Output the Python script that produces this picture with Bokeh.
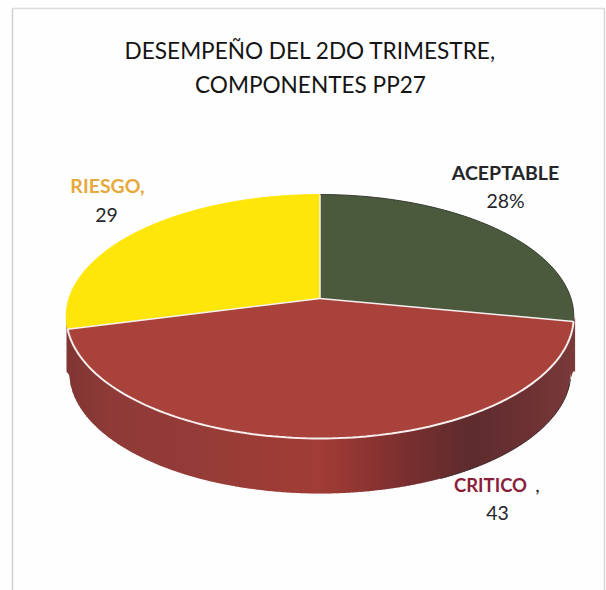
import numpy as np
from bokeh.plotting import figure
from bokeh.models import Range1d
from bokeh.core.properties import value
from bokeh.embed import file_html
from bokeh.resources import INLINE

# ---- data ----
title_lines = ["DESEMPEÑO DEL 2DO TRIMESTRE,", "COMPONENTES PP27"]
categories = ["ACEPTABLE", "CRITICO", "RIESGO"]
values = [28, 43, 29]
value_labels = ["28%", "43", "29"]

# ---- styles / layout ----
slice_colors = ["#4b5a3c", "#a8423a", "#ffe60a"]
CX, APEX_Y = 319.5, 298.0
A, K, B = 119.3, 0.1475, 251.0      # perspective projection of the disc
DEPTH_RX, DEPTH_CY, DEPTH_RY = 251.0, 371.0, 122.0
TOP_RX, TOP_CY, TOP_RY = 253.5, 316.0, 122.0
FONT = value("Lato")

p = figure(width=606, height=590, output_backend="svg", toolbar_location=None,
           x_range=Range1d(0, 606), y_range=Range1d(590, 0),
           min_border=0, min_border_left=0, min_border_right=0,
           min_border_top=0, min_border_bottom=0,
           background_fill_color="#fefefe", border_fill_color="#fefefe")
p.axis.visible = False
p.grid.visible = False
p.outline_line_color = None


def project(theta):
    """theta: clockwise from the top of the disc, radians."""
    sx, cy = np.sin(theta), np.cos(theta)
    den = 1 + K * cy
    return CX + B * sx / den, APEX_Y - A * cy / den


# sheet frame (scanned page edge)
p.line([12, 12], [8, 590], line_color="#cfcfcf", line_width=1.5)
p.line([12, 604], [8, 8], line_color="#dcdcdc", line_width=1.5)
p.line([604, 604], [8, 590], line_color="#d8d8d8", line_width=1.5)

# shaded side of the disc, drawn as thin vertical strips
stop_x = [66, 110, 200, 320, 400, 470, 530, 572]
stop_rgb = np.array([[128, 54, 52], [143, 59, 56], [150, 60, 56], [162, 60, 54],
                     [125, 48, 48], [94, 44, 46], [110, 50, 52], [122, 58, 58]], float)
edges = np.arange(66, 573, 2.0)
xs_side, ys_side, col_side = [], [], []
for x0 in edges:
    x1 = x0 + 2.6
    xx = np.array([x0, x1])
    top = TOP_CY + TOP_RY * np.sqrt(np.clip(1 - ((xx - CX) / TOP_RX) ** 2, 0, 1))
    bot = DEPTH_CY + DEPTH_RY * np.sqrt(np.clip(1 - ((xx - CX) / DEPTH_RX) ** 2, 0, 1))
    bot = np.maximum(bot, top)
    xs_side.append([x0, x1, x1, x0])
    ys_side.append([top[0], top[1], bot[1], bot[0]])
    rgb = [np.interp(x0 + 1, stop_x, stop_rgb[:, i]) for i in range(3)]
    col_side.append("#%02x%02x%02x" % tuple(int(c) for c in rgb))
p.patches(xs_side, ys_side, fill_color=col_side, line_color=None)

# dark lower-right silhouette of the side
arc_x = np.linspace(440, 570, 80)
arc_y = DEPTH_CY + DEPTH_RY * np.sqrt(np.clip(1 - ((arc_x - CX) / DEPTH_RX) ** 2, 0, 1))
p.line(arc_x, arc_y, line_color="#3c2a2c", line_width=1)

# top face slices
cum = np.concatenate([[0], np.cumsum(values)]) / np.sum(values) * 2 * np.pi
outlines = ["#34382e", "#f8eeee", "#ffe60a"]
for i in range(len(values)):
    t = np.linspace(cum[i], cum[i + 1], 120)
    ex, ey = project(t)
    p.patch(np.r_[CX, ex], np.r_[APEX_Y, ey], fill_color=slice_colors[i], line_color=None)
    p.line(ex, ey, line_color=outlines[i], line_width=2 if i == 1 else 1)

# white separators between slices
for a in cum[:-1]:
    ex, ey = project(np.array([a]))
    p.line([CX, ex[0]], [APEX_Y, ey[0]], line_color="#f6f0ee", line_width=1.5)

# title
p.text([310], [50], text=[title_lines[0]], text_font=FONT, text_font_size="22.6px",
       text_color="#141414", text_align="center", text_baseline="middle")
p.text([310], [84], text=[title_lines[1]], text_font=FONT, text_font_size="22.6px",
       text_color="#141414", text_align="center", text_baseline="middle")

# slice labels
LBL = "19.5px"
p.text([505], [172], text=[categories[0]], text_font=FONT, text_font_size=LBL,
       text_font_style="bold", text_color="#26262a", text_align="center", text_baseline="middle")
p.text([505], [200], text=[value_labels[0]], text_font=FONT, text_font_size=LBL,
       text_color="#26262a", text_align="center", text_baseline="middle")
p.text([107], [185], text=[categories[2] + ","], text_font=FONT, text_font_size=LBL,
       text_font_style="bold", text_color="#e6a93c", text_align="center", text_baseline="middle")
p.text([106], [214], text=[value_labels[2]], text_font=FONT, text_font_size=LBL,
       text_color="#26262a", text_align="center", text_baseline="middle")
p.text([490], [484], text=[categories[1]], text_font=FONT, text_font_size="18.5px",
       text_font_style="bold", text_color="#8a1f3c", text_align="center", text_baseline="middle")
p.text([537], [484], text=[","], text_font=FONT, text_font_size=LBL,
       text_color="#26262a", text_align="center", text_baseline="middle")
p.text([497], [512], text=[value_labels[1]], text_font=FONT, text_font_size=LBL,
       text_color="#26262a", text_align="center", text_baseline="middle")

open("out.html", "w").write(file_html(p, INLINE))
